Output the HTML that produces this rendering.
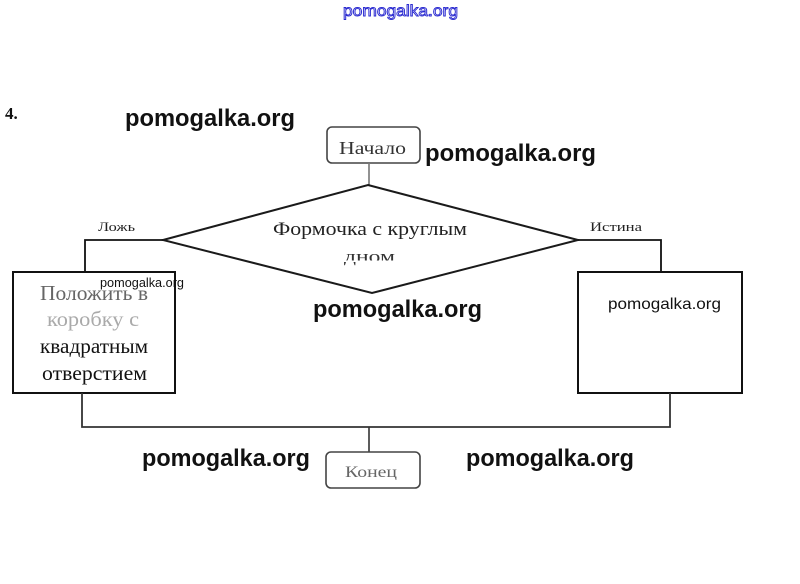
<!DOCTYPE html>
<html>
<head>
<meta charset="utf-8">
<style>
  html,body{margin:0;padding:0;background:#fff;}
  svg{display:block;}
  .wm{font-family:"Liberation Sans",sans-serif;font-weight:bold;fill:#111;}
  .sr{font-family:"Liberation Serif","DejaVu Serif",serif;}
</style>
</head>
<body>
<svg width="800" height="584" viewBox="0 0 800 584" xmlns="http://www.w3.org/2000/svg">
  <rect width="800" height="584" fill="#fff"/>

  <!-- top blue watermark -->
  <text x="343" y="16" font-family="Liberation Sans, sans-serif" font-size="16" fill="#ffffff" stroke="#2a2ad0" stroke-width="0.9" textLength="115" lengthAdjust="spacingAndGlyphs">pomogalka.org</text>

  <!-- 4. -->
  <text x="5" y="119" class="sr" font-size="17" font-weight="bold" fill="#111">4.</text>

  <!-- Начало -->
  <rect x="327" y="127" width="93" height="36" rx="5" ry="5" fill="none" stroke="#444" stroke-width="1.6"/>
  <text x="339" y="154" class="sr" font-size="18" fill="#333" textLength="67" lengthAdjust="spacingAndGlyphs">Начало</text>
  <line x1="369" y1="163" x2="369" y2="186" stroke="#777" stroke-width="1.6"/>

  <!-- diamond -->
  <polygon points="368,185 578,240 372,293 163,240" fill="none" stroke="#1a1a1a" stroke-width="2"/>
  <text x="273" y="235" class="sr" font-size="19" fill="#222" textLength="194" lengthAdjust="spacingAndGlyphs">Формочка с круглым</text>
  <text x="344" y="262" class="sr" font-size="17" fill="#333" textLength="51" lengthAdjust="spacingAndGlyphs">дном</text>
  <rect x="338" y="260.5" width="62" height="1.5" fill="#fff"/>

  <!-- Ложь branch -->
  <polyline points="163,240 85,240 85,272" fill="none" stroke="#111" stroke-width="1.8"/>
  <text x="98" y="231" class="sr" font-size="13" fill="#222" textLength="37" lengthAdjust="spacingAndGlyphs">Ложь</text>

  <!-- Истина branch -->
  <polyline points="578,240 661,240 661,272" fill="none" stroke="#111" stroke-width="1.8"/>
  <text x="590" y="231" class="sr" font-size="13" fill="#222" textLength="52" lengthAdjust="spacingAndGlyphs">Истина</text>

  <!-- left box -->
  <rect x="13" y="272" width="162" height="121" fill="#fff" stroke="#111" stroke-width="2"/>
  <text x="40" y="300" class="sr" font-size="21" fill="#666" textLength="108" lengthAdjust="spacingAndGlyphs">Положить в</text>
  <text x="47" y="326" class="sr" font-size="21" fill="#aaa" textLength="92" lengthAdjust="spacingAndGlyphs">коробку с</text>
  <text x="40" y="353" class="sr" font-size="21" fill="#111" textLength="108" lengthAdjust="spacingAndGlyphs">квадратным</text>
  <text x="42" y="380" class="sr" font-size="21" fill="#111" textLength="105" lengthAdjust="spacingAndGlyphs">отверстием</text>
  <text x="100" y="287" font-family="Liberation Sans, sans-serif" font-size="12.5" fill="#111" textLength="84" lengthAdjust="spacingAndGlyphs">pomogalka.org</text>

  <!-- right box -->
  <rect x="578" y="272" width="164" height="121" fill="#fff" stroke="#111" stroke-width="2"/>
  <text x="608" y="309" font-family="Liberation Sans, sans-serif" font-size="16" fill="#111" textLength="113" lengthAdjust="spacingAndGlyphs">pomogalka.org</text>

  <!-- merge connector -->
  <polyline points="82,393 82,427 670,427 670,393" fill="none" stroke="#333" stroke-width="1.8"/>
  <line x1="369" y1="427" x2="369" y2="452" stroke="#333" stroke-width="1.6"/>

  <!-- Конец -->
  <rect x="326" y="452" width="94" height="36" rx="5" ry="5" fill="none" stroke="#444" stroke-width="1.6"/>
  <text x="345" y="477" class="sr" font-size="16" fill="#666" textLength="52" lengthAdjust="spacingAndGlyphs">Конец</text>

  <!-- big watermarks -->
  <text x="125" y="126" class="wm" font-size="24" textLength="170" lengthAdjust="spacingAndGlyphs">pomogalka.org</text>
  <text x="425" y="161" class="wm" font-size="24" textLength="171" lengthAdjust="spacingAndGlyphs">pomogalka.org</text>
  <text x="313" y="317" class="wm" font-size="24" textLength="169" lengthAdjust="spacingAndGlyphs">pomogalka.org</text>
  <text x="142" y="466" class="wm" font-size="24" textLength="168" lengthAdjust="spacingAndGlyphs">pomogalka.org</text>
  <text x="466" y="466" class="wm" font-size="24" textLength="168" lengthAdjust="spacingAndGlyphs">pomogalka.org</text>
</svg>
</body>
</html>
